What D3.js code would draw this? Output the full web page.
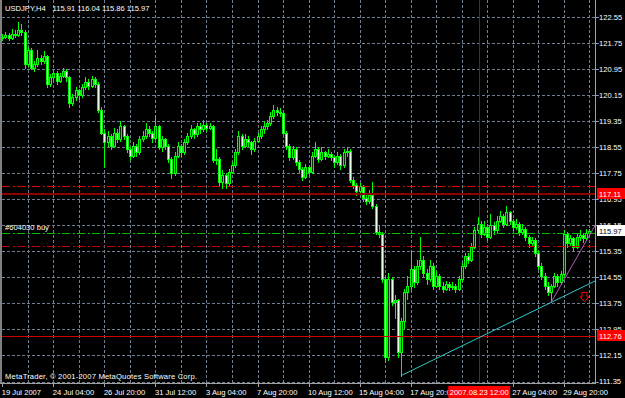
<!DOCTYPE html>
<html><head><meta charset="utf-8">
<script src="https://cdn.jsdelivr.net/npm/d3@7/dist/d3.min.js"></script>
<style>html,body{margin:0;padding:0;background:#000;overflow:hidden}</style>
</head><body><svg id="c" width="625" height="398"></svg>
<script>
// ---- DATA (USDJPY H4) ----
const opens = [121.90,121.95,122.00,121.92,122.05,122.00,122.15,122.10,121.10,121.55,
121.00,121.10,121.30,121.20,121.35,120.50,120.70,120.85,120.60,120.75,
120.90,120.70,119.90,120.10,120.30,120.15,120.40,120.55,120.45,120.65,
120.50,119.70,119.00,118.70,118.90,118.60,119.00,118.80,119.20,118.90,
118.50,118.30,118.60,118.40,118.80,118.90,119.10,119.00,118.85,119.20,
118.55,118.80,118.60,118.20,117.75,118.30,118.60,118.40,118.70,118.90,
119.10,118.95,119.20,119.10,119.25,119.15,119.20,118.15,118.20,117.50,
117.70,117.45,117.80,118.00,118.40,118.90,118.60,118.80,118.70,118.50,
118.75,118.90,119.10,119.20,119.30,119.50,119.70,119.65,119.60,119.00,
118.60,118.25,118.50,118.10,117.90,117.65,117.95,117.80,118.30,118.50,
118.20,118.40,118.30,118.35,118.25,118.10,118.30,118.00,118.40,118.45,
117.55,117.40,117.20,117.35,117.00,116.90,117.10,116.75,115.95,115.90,
114.50,112.10,114.50,113.80,113.85,112.25,113.20,114.10,114.30,114.80,
114.40,114.90,115.10,114.70,114.50,114.90,114.30,114.60,114.30,114.20,
114.35,114.25,114.30,114.20,114.50,114.90,115.20,115.10,115.50,116.00,
116.20,115.90,116.10,115.80,116.15,116.00,116.30,116.45,116.20,116.55,
116.30,116.10,116.20,115.95,116.05,115.80,115.60,115.70,115.30,114.90,
114.60,114.30,114.10,114.30,114.60,114.40,114.65,115.90,115.60,115.75,
115.50,115.80,115.85,115.75,115.91];
const highs = [122.05,122.10,122.08,122.20,122.15,122.40,122.35,122.15,121.65,121.60,
121.20,121.55,121.40,121.50,121.40,120.80,120.95,120.90,120.85,121.00,
120.95,120.75,120.20,120.40,120.35,120.50,120.70,120.65,120.75,120.70,
120.55,119.80,119.10,119.05,118.95,119.15,119.10,119.35,119.25,118.95,
118.55,118.70,118.65,118.90,119.05,119.30,119.20,119.05,119.50,119.25,
118.90,118.85,118.65,118.25,118.40,118.70,118.65,118.80,119.00,119.25,
119.15,119.30,119.30,119.40,119.30,119.30,119.25,118.50,118.25,117.85,
117.75,117.90,118.10,118.50,119.05,118.95,118.95,118.90,118.75,118.85,
119.00,119.20,119.35,119.40,119.65,119.85,119.80,119.75,119.65,119.05,
118.65,118.60,118.55,118.15,117.95,118.05,118.00,118.40,118.70,118.55,
118.55,118.45,118.50,118.40,118.30,118.40,118.35,118.50,118.55,118.50,
117.65,117.45,117.45,117.40,117.10,117.25,117.50,116.80,116.15,115.95,
114.60,114.70,114.55,114.00,113.90,113.30,114.20,114.60,115.40,114.90,
115.10,115.80,115.20,114.80,115.10,115.00,114.75,114.65,114.40,114.45,
114.40,114.40,114.35,114.60,115.00,115.30,115.30,115.60,116.10,116.40,
116.30,116.30,116.20,116.50,116.25,116.45,116.60,116.50,116.75,116.60,
116.35,116.35,116.25,116.20,116.10,115.85,115.80,115.75,115.35,115.00,
114.70,114.40,114.35,114.70,114.65,114.75,116.00,115.95,115.85,115.80,
115.90,116.00,115.90,116.05,116.04];
const lows = [121.85,121.90,121.85,121.88,121.95,121.98,122.02,121.00,121.05,120.95,
120.90,121.05,121.10,121.15,120.40,120.45,120.60,120.50,120.55,120.70,
120.60,119.80,119.85,120.00,120.05,120.10,120.35,120.35,120.40,120.40,
119.65,118.95,117.95,118.60,118.50,118.55,118.70,118.75,118.80,118.40,
118.15,118.25,118.30,118.35,118.75,118.85,118.90,118.70,118.80,118.50,
118.45,118.50,118.10,117.60,117.70,118.25,118.30,118.35,118.65,118.85,
118.85,118.90,119.00,119.05,119.05,119.10,118.10,118.05,117.35,117.30,
117.30,117.40,117.75,117.95,118.35,118.50,118.55,118.60,118.35,118.45,
118.70,118.85,119.00,119.10,119.25,119.45,119.55,119.50,118.95,118.50,
118.15,118.20,118.00,117.80,117.55,117.60,117.70,117.75,118.25,118.10,
118.15,118.20,118.25,118.15,117.95,118.05,117.90,117.95,118.30,117.50,
117.30,117.10,117.15,116.90,116.80,116.85,116.70,115.90,115.80,114.40,
111.95,112.00,113.70,113.30,112.10,111.53,113.00,113.90,114.20,114.25,
114.35,114.80,114.60,114.35,114.45,114.20,114.25,114.20,114.10,114.15,
114.15,114.20,114.10,114.15,114.45,114.85,115.00,115.05,115.45,115.95,
115.80,115.85,115.70,115.75,115.90,115.95,116.25,116.10,116.15,116.20,
116.00,116.05,115.85,115.90,115.70,115.50,115.55,115.20,114.80,114.50,
114.20,114.00,113.78,114.25,114.30,114.35,114.60,115.50,115.55,115.40,
115.45,115.70,115.65,115.70,115.86];
const closes = [121.95,122.00,121.92,122.05,122.00,122.15,122.10,121.10,121.55,121.00,
121.10,121.30,121.20,121.35,120.50,120.70,120.85,120.60,120.75,120.90,
120.70,119.90,120.10,120.30,120.15,120.40,120.55,120.45,120.65,120.50,
119.70,119.00,118.70,118.90,118.60,119.00,118.80,119.20,118.90,118.50,
118.30,118.60,118.40,118.80,118.90,119.10,119.00,118.85,119.20,118.55,
118.80,118.60,118.20,117.75,118.30,118.60,118.40,118.70,118.90,119.10,
118.95,119.20,119.10,119.25,119.15,119.20,118.15,118.20,117.50,117.70,
117.45,117.80,118.00,118.40,118.90,118.60,118.80,118.70,118.50,118.75,
118.90,119.10,119.20,119.30,119.50,119.70,119.65,119.60,119.00,118.60,
118.25,118.50,118.10,117.90,117.65,117.95,117.80,118.30,118.50,118.20,
118.40,118.30,118.35,118.25,118.10,118.30,118.00,118.40,118.45,117.55,
117.40,117.20,117.35,117.00,116.90,117.10,116.75,115.95,115.90,114.50,
112.10,114.50,113.80,113.85,112.25,113.20,114.10,114.30,114.80,114.40,
114.90,115.10,114.70,114.50,114.90,114.30,114.60,114.30,114.20,114.35,
114.25,114.30,114.20,114.50,114.90,115.20,115.10,115.50,116.00,116.20,
115.90,116.10,115.80,116.15,116.00,116.30,116.45,116.20,116.55,116.30,
116.10,116.20,115.95,116.05,115.80,115.60,115.70,115.30,114.90,114.60,
114.30,114.10,114.30,114.60,114.40,114.65,115.90,115.60,115.75,115.50,
115.80,115.85,115.75,115.91,115.97];

const priceTicks = [122.55,121.75,120.95,120.15,119.35,118.55,117.75,116.95,116.15,115.35,114.55,113.75,112.95,112.15,111.35];
const timeLabelIdx = [0,16,32,48,64,80,96,112,128,160,176];
const timeLabelText = ["19 Jul 2007","24 Jul 04:00","26 Jul 20:00","31 Jul 12:00","3 Aug 04:00","7 Aug 20:00","10 Aug 12:00","15 Aug 04:00","17 Aug 20:00","27 Aug 04:00","29 Aug 20:00"];
const symbolTitle = "USDJPY,H4";
const lastOHLC = [115.91,116.04,115.86,115.97];
const orderLevels = [117.35, 115.93, 115.51];   // TP, open (#604030 buy), SL
const orderLabel = "#604030 buy";
const hLines = [117.11, 112.76];
const vLineIdx = 149.5; const vLineText = "2007.08.23 12:00";
const cyanTrend = [[125, 111.53],[172, 113.78]];
const violetTrend = [[172, 113.78],[186, 116.18]];
const arrowAt = [182.5, 113.95];
const bidPrice = 115.97;
const copyright = "MetaTrader, \u00a9 2001-2007 MetaQuotes Software Corp.";

// ---- LAYOUT ----
const W = 625, H = 398, L = 2, R = 595, B = 383;
const FONT = "'Liberation Sans', Arial, sans-serif";
const FS = 7.6;
const svg = d3.select('#c');
const x = d3.scaleLinear().domain([0, closes.length - 1]).range([2.3, 589.3]);
const y = d3.scaleLinear().domain([111.35, 122.55]).range([381.5, 17.3]);
const px = v => Math.round(v) + 0.5;

svg.append('rect').attr('width', W).attr('height', H).attr('fill', '#000');

svg.append('defs').append('clipPath').attr('id', 'plot')
  .append('rect').attr('x', L).attr('y', 0).attr('width', R - L).attr('height', B);

// grid
const grid = svg.append('g').attr('shape-rendering', 'crispEdges')
  .attr('stroke', '#6f7f8f').attr('stroke-dasharray', '3,2');
grid.selectAll('line.h').data(priceTicks).join('line').attr('class', 'h')
  .attr('x1', L).attr('x2', R + 4).attr('y1', d => px(y(d))).attr('y2', d => px(y(d)));
grid.selectAll('line.v').data(d3.range(8, closes.length, 8)).join('line').attr('class', 'v')
  .attr('y1', 0).attr('y2', B).attr('x1', d => px(x(d))).attr('x2', d => px(x(d)));

// candles
const bars = d3.range(closes.length);
const cg = svg.append('g').attr('shape-rendering', 'crispEdges').attr('clip-path', 'url(#plot)');
bars.forEach(i => {
  const xc = Math.round(x(i));
  const yh = Math.round(y(highs[i])), yl = Math.round(y(lows[i]));
  cg.append('rect').attr('x', xc).attr('y', yh).attr('width', 1).attr('height', Math.max(1, yl - yh + 1)).attr('fill', '#00ff00');
  const top = Math.round(y(Math.max(opens[i], closes[i])));
  const bot = Math.round(y(Math.min(opens[i], closes[i])));
  cg.append('rect').attr('x', xc - 1).attr('y', top).attr('width', 3).attr('height', Math.max(1, bot - top + 1)).attr('fill', '#00ff00');
  if (bot - top >= 2) {
    cg.append('rect').attr('x', xc).attr('y', top + 1).attr('width', 1).attr('height', bot - top - 1)
      .attr('fill', closes[i] < opens[i] ? '#eaffea' : '#003000');
  }
});

// lines
const lg = svg.append('g').attr('clip-path', 'url(#plot)');
lg.append('line').attr('x1', px(x(vLineIdx))).attr('x2', px(x(vLineIdx))).attr('y1', 0).attr('y2', B)
  .attr('stroke', '#b00000').attr('shape-rendering', 'crispEdges');
const levelColors = ['#e00000', '#00c000', '#c00000'];
lg.selectAll('line.lvl').data(orderLevels).join('line').attr('class', 'lvl')
  .attr('x1', L).attr('x2', R).attr('y1', d => px(y(d))).attr('y2', d => px(y(d)))
  .attr('stroke', (d, i) => levelColors[i]).attr('stroke-dasharray', '8,2.5,2,2.5')
  .attr('shape-rendering', 'crispEdges');
lg.append('line').attr('x1', L).attr('x2', R).attr('y1', Math.round(y(hLines[0]))).attr('y2', Math.round(y(hLines[0])))
  .attr('stroke', '#8c0000').attr('stroke-width', 2).attr('shape-rendering', 'crispEdges');
lg.append('line').attr('x1', L).attr('x2', R).attr('y1', px(y(hLines[1]))).attr('y2', px(y(hLines[1])))
  .attr('stroke', '#d00000').attr('shape-rendering', 'crispEdges');

function ray(pts, color) {
  const [a, b] = pts;
  const slope = (b[1] - a[1]) / (b[0] - a[0]);
  const xe = x.invert(R);
  lg.append('line').attr('x1', x(a[0])).attr('y1', y(a[1]))
    .attr('x2', R).attr('y2', y(a[1] + slope * (xe - a[0])))
    .attr('stroke', color).attr('stroke-width', 1);
}
ray(cyanTrend, '#2ec8c8');
ray(violetTrend, '#b060b0');

// arrow (down, outlined)
const ax = x(arrowAt[0]), ay = y(arrowAt[1]);
lg.append('path')
  .attr('d', `M${ax - 2.5},${ay - 4.5}H${ax + 2.5}V${ay}H${ax + 4.5}L${ax},${ay + 4.5}L${ax - 4.5},${ay}H${ax - 2.5}Z`)
  .attr('fill', 'none').attr('stroke', '#ff0000').attr('stroke-width', 1);

// borders
const bg = svg.append('g').attr('shape-rendering', 'crispEdges');
bg.append('rect').attr('x', 0).attr('y', 0).attr('width', 2).attr('height', B + 1).attr('fill', '#808080');
bg.append('line').attr('x1', R + 0.5).attr('x2', R + 0.5).attr('y1', 0).attr('y2', B + 1).attr('stroke', '#a0a0a0');
bg.append('line').attr('x1', 0).attr('x2', R + 1).attr('y1', B + 0.5).attr('y2', B + 0.5).attr('stroke', '#a0a0a0');

// price axis labels
const tg = svg.append('g').attr('font-family', FONT).attr('font-size', FS).attr('fill', '#fff');
tg.selectAll('text.p').data(priceTicks).join('text').attr('class', 'p')
  .attr('x', 599).attr('y', d => y(d) + 2.7).text(d => d.toFixed(2));
bg.selectAll('line.pt').data(priceTicks).join('line').attr('class', 'pt')
  .attr('x1', R).attr('x2', R + 3).attr('y1', d => px(y(d))).attr('y2', d => px(y(d))).attr('stroke', '#a0a0a0');

// time axis
bg.selectAll('line.tt').data(timeLabelIdx).join('line').attr('class', 'tt')
  .attr('x1', d => px(x(d))).attr('x2', d => px(x(d))).attr('y1', B).attr('y2', B + 4).attr('stroke', '#a0a0a0');
tg.selectAll('text.t').data(timeLabelIdx).join('text').attr('class', 't')
  .attr('x', d => x(d) - 0.5).attr('y', 395).text((d, i) => timeLabelText[i]);

// axis marks for lines
const marks = [[hLines[0], '#ff0000', '#fff'], [bidPrice, '#ffffff', '#000'], [hLines[1], '#ff0000', '#fff']];
marks.forEach(([p, bgc, fg]) => {
  const yy = Math.round(y(p));
  svg.append('rect').attr('x', 597).attr('y', yy - 6).attr('width', 28).attr('height', 11).attr('fill', bgc);
  svg.append('text').attr('x', 599).attr('y', yy + 2.7).attr('font-family', FONT).attr('font-size', FS)
    .attr('fill', fg).text(p.toFixed(2));
});
// date mark
const dx = x(vLineIdx);
svg.append('rect').attr('x', dx - 31).attr('y', 386).attr('width', 62).attr('height', 12).attr('fill', '#ff0000');
svg.append('text').attr('x', dx).attr('y', 395).attr('text-anchor', 'middle').attr('font-family', FONT)
  .attr('font-size', FS).attr('fill', '#fff').text(vLineText);

// texts
tg.append('text').attr('x', 5).attr('y', 10.5).text(symbolTitle);
tg.append('text').attr('x', 52.5).attr('y', 10.5).text(lastOHLC.map(v => v.toFixed(2)).join(' '));
tg.append('text').attr('x', 5).attr('y', y(orderLevels[1]) - 3).text(orderLabel);
tg.append('text').attr('x', 5).attr('y', 378.5).attr('textLength', 192).attr('lengthAdjust', 'spacing').text(copyright);
</script>
</body></html>
